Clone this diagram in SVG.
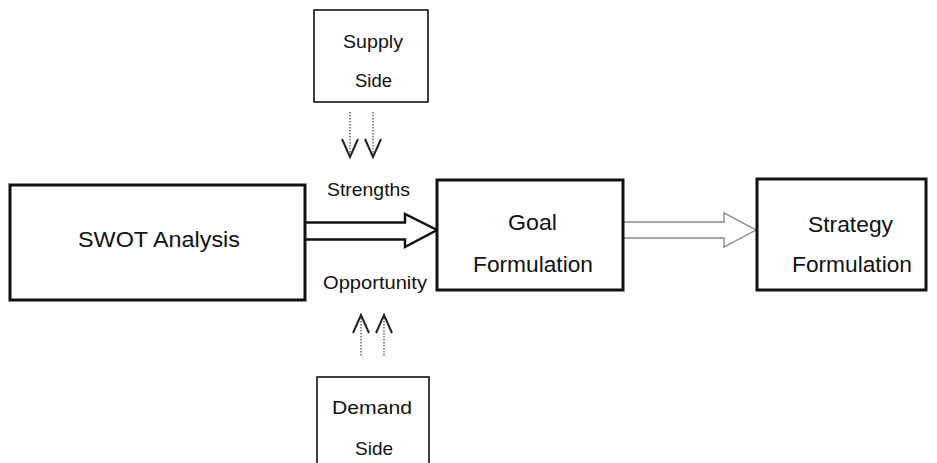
<svg xmlns="http://www.w3.org/2000/svg" width="937" height="463" viewBox="0 0 937 463">
<style>
.box{fill:#fff;stroke:#111;stroke-width:3}
.sbox{fill:#fff;stroke:#111;stroke-width:1.6}
.t{font-family:"Liberation Sans",Arial,sans-serif;fill:#111;text-anchor:middle}
.main{font-size:22px}
.small{font-size:19px}
.dot{stroke:#555;stroke-width:1.3;stroke-dasharray:1.5 1.5;fill:none}
.head{stroke:#222;stroke-width:2;fill:none}
</style>
<rect width="937" height="463" fill="#fff"/>
<g id="connectors">
<path d="M305,222.5 H405 V214 L437,230 L405,247 V239.5 H305" fill="#fff" stroke="#111" stroke-width="2.5" stroke-linejoin="miter"/>
<path d="M623,222 H724 V213 L756,230 L724,247 V238 H623" fill="#fff" stroke="#888" stroke-width="1.4"/>
<line class="dot" x1="350" y1="112" x2="350" y2="155"/>
<line class="dot" x1="373" y1="112" x2="373" y2="155"/>
<polyline class="head" points="342,139 350,157 358,139"/>
<polyline class="head" points="365,139 373,157 381,139"/>
<line class="dot" x1="361" y1="318" x2="361" y2="356"/>
<line class="dot" x1="384" y1="318" x2="384" y2="356"/>
<polyline class="head" points="353,333 361,315 369,333"/>
<polyline class="head" points="376,333 384,315 392,333"/>
<text class="t small" x="368.5" y="196" textLength="83" lengthAdjust="spacingAndGlyphs">Strengths</text>
<text class="t small" x="375" y="289" textLength="104" lengthAdjust="spacingAndGlyphs">Opportunity</text>
</g>
<g id="swot">
<rect class="box" x="10" y="185" width="295" height="115"/>
<text class="t main" x="159" y="247" textLength="162" lengthAdjust="spacingAndGlyphs">SWOT Analysis</text>
</g>
<g id="supply">
<rect class="sbox" x="314" y="10" width="114" height="92"/>
<text class="t small" x="373" y="48" textLength="60" lengthAdjust="spacingAndGlyphs">Supply</text>
<text class="t small" x="373.5" y="87" textLength="37" lengthAdjust="spacingAndGlyphs">Side</text>
</g>
<g id="demand">
<rect class="sbox" x="317" y="377" width="112" height="100"/>
<text class="t small" x="372" y="414" textLength="80" lengthAdjust="spacingAndGlyphs">Demand</text>
<text class="t small" x="374" y="455" textLength="38" lengthAdjust="spacingAndGlyphs">Side</text>
</g>
<g id="goal">
<rect class="box" x="437" y="180" width="186" height="110"/>
<text class="t main" x="532.5" y="230" textLength="49" lengthAdjust="spacingAndGlyphs">Goal</text>
<text class="t main" x="533" y="272" textLength="120" lengthAdjust="spacingAndGlyphs">Formulation</text>
</g>
<g id="strategy">
<rect class="box" x="757" y="179" width="169" height="111"/>
<text class="t main" x="850.5" y="232" textLength="85" lengthAdjust="spacingAndGlyphs">Strategy</text>
<text class="t main" x="852" y="272" textLength="120" lengthAdjust="spacingAndGlyphs">Formulation</text>
</g>
</svg>
